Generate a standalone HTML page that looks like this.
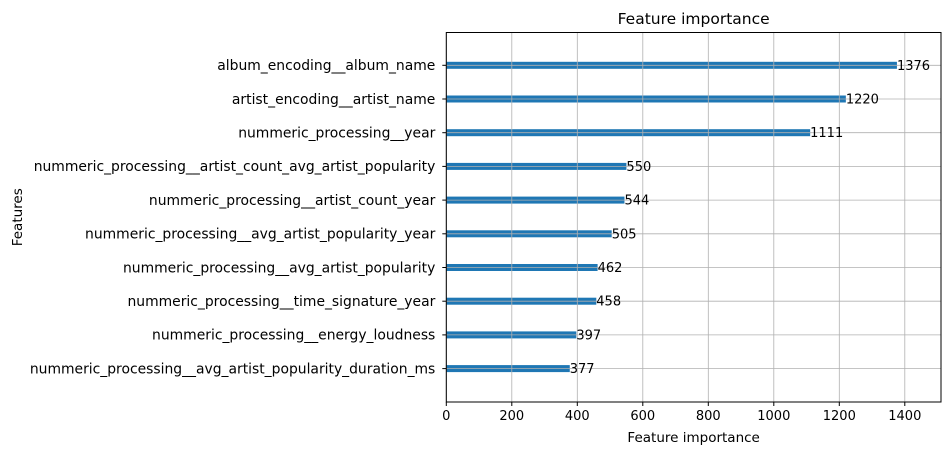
<!DOCTYPE html>
<html><head><meta charset="utf-8"><style>
body{margin:0;background:#fff;font-family:"Liberation Sans","DejaVu Sans",sans-serif}
text{font-family:"DejaVu Sans","Liberation Sans",sans-serif;fill:#000}
</style></head><body>
<svg id="chart" width="951" height="455" xmlns="http://www.w3.org/2000/svg"></svg>
<script>
const features=["album_encoding__album_name","artist_encoding__artist_name","nummeric_processing__year","nummeric_processing__artist_count_avg_artist_popularity","nummeric_processing__artist_count_year","nummeric_processing__avg_artist_popularity_year","nummeric_processing__avg_artist_popularity","nummeric_processing__time_signature_year","nummeric_processing__energy_loudness","nummeric_processing__avg_artist_popularity_duration_ms"];
const importance=[1376,1220,1111,550,544,505,462,458,397,377];
const xTicks=[0,200,400,600,800,1000,1200,1400];
const svg=document.getElementById('chart');
const NS='http://www.w3.org/2000/svg';
const L=446.3,R=941,T=32.5,B=402;
const xs=v=>L+v*0.3275;
const y0=65.3,dy=33.7;
const ys=i=>y0+i*dy;
function mk(tag,attrs,txt){const e=document.createElementNS(NS,tag);for(const k in attrs)e.setAttribute(k,attrs[k]);if(txt!==undefined)e.textContent=txt;svg.appendChild(e);return e;}
importance.forEach((v,i)=>{
 const r=mk('rect',{x:L,y:ys(i)-3.5,width:xs(v)-L,height:7,fill:'#1f77b4'});
 
 
});
xTicks.forEach(t=>{const g=mk('line',{x1:xs(t),x2:xs(t),y1:T,y2:B,stroke:'#b0b0b0','stroke-width':0.8});
 
 });
features.forEach((f,i)=>{const g=mk('line',{x1:L,x2:R,y1:ys(i),y2:ys(i),stroke:'#b0b0b0','stroke-width':0.8});
 
 });
importance.forEach((v,i)=>{const t=mk('text',{x:xs(v),y:ys(i)+4.5,'font-size':13},String(v));
 
 });
const fr=mk('rect',{x:L,y:T,width:R-L,height:B-T,fill:'none',stroke:'#000','stroke-width':1});


xTicks.forEach(t=>{mk('line',{x1:xs(t),x2:xs(t),y1:B,y2:B+4,stroke:'#000'});
 const tl=mk('text',{x:xs(t),y:B+18,'font-size':13,'text-anchor':'middle'},String(t));
 
 });
features.forEach((f,i)=>{mk('line',{x1:L-4,x2:L,y1:ys(i),y2:ys(i),stroke:'#000'});
 const tl=mk('text',{x:L-11,y:ys(i)+4.8,'font-size':13.9,'text-anchor':'end'},f);
 
 });
const title=mk('text',{x:(L+R)/2,y:24,'font-size':15.5,'text-anchor':'middle'},'Feature importance');


const xt=mk('text',{x:(L+R)/2,y:442,'font-size':13.5,'text-anchor':'middle'},'Feature importance');


const yt=mk('text',{x:22,y:(T+B)/2,'font-size':13.5,'text-anchor':'middle',transform:'rotate(-90 22 '+((T+B)/2)+')'},'Features');


</script>
</body></html>
